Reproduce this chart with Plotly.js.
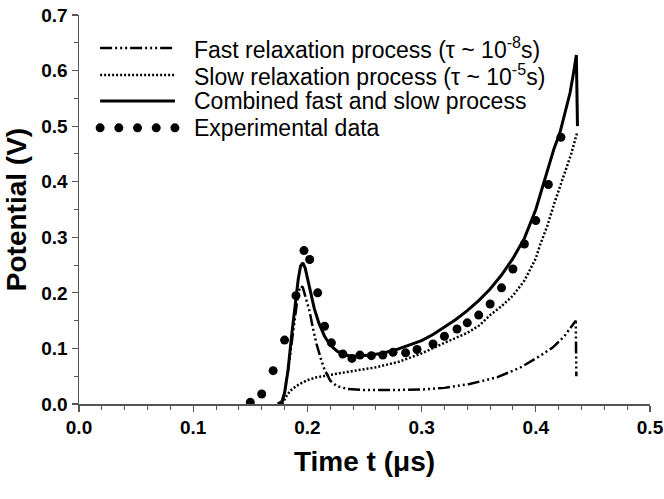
<!DOCTYPE html>
<html>
<head>
<meta charset="utf-8">
<script src="https://cdn.plot.ly/plotly-3.0.1.min.js"></script>
<style>html,body{margin:0;padding:0;background:#fff;}#chart{width:664px;height:499px;}</style>
</head>
<body>
<div id="chart"></div>
<script>
// Combined fast and slow process (solid)
const combT = [0.174,0.178,0.180,0.183,0.186,0.189,0.192,0.194,0.196,0.198,0.200,0.203,0.206,0.210,0.215,0.220,0.226,0.232,0.238,0.245,0.255,0.265,0.278,0.290,0.300,0.310,0.320,0.330,0.340,0.350,0.360,0.370,0.380,0.390,0.400,0.405,0.410,0.416,0.421,0.426,0.430,0.433,0.4355,0.4365];
const combV = [0,0.005,0.02,0.06,0.12,0.175,0.225,0.248,0.254,0.245,0.226,0.198,0.172,0.146,0.122,0.106,0.095,0.089,0.086,0.086,0.088,0.091,0.098,0.106,0.114,0.125,0.138,0.152,0.168,0.186,0.207,0.232,0.262,0.298,0.35,0.385,0.42,0.46,0.487,0.525,0.56,0.595,0.628,0.50];
// Slow relaxation process (dotted)
const slowT = [0.178,0.181,0.185,0.190,0.195,0.200,0.208,0.218,0.230,0.245,0.260,0.280,0.300,0.320,0.340,0.351,0.360,0.370,0.380,0.390,0.395,0.400,0.404,0.410,0.416,0.421,0.426,0.431,0.436];
const slowV = [0,0.012,0.024,0.032,0.038,0.043,0.048,0.052,0.056,0.061,0.066,0.076,0.091,0.110,0.128,0.142,0.16,0.176,0.195,0.222,0.241,0.262,0.288,0.32,0.36,0.39,0.42,0.45,0.487];
// Fast relaxation process (dash-dot-dot)
const fastT = [0.177,0.180,0.183,0.186,0.189,0.192,0.194,0.196,0.198,0.202,0.205,0.208,0.212,0.215,0.220,0.226,0.235,0.250,0.270,0.300,0.320,0.342,0.366,0.386,0.404,0.415,0.425,0.435,0.4355];
const fastV = [0,0.02,0.06,0.11,0.16,0.2,0.212,0.21,0.195,0.166,0.135,0.108,0.08,0.062,0.042,0.032,0.027,0.025,0.025,0.026,0.029,0.036,0.048,0.065,0.087,0.102,0.122,0.15,0.05];
// Experimental data (dots)
const expT = [0.150,0.160,0.170,0.180,0.190,0.197,0.202,0.209,0.215,0.221,0.231,0.239,0.246,0.256,0.266,0.275,0.286,0.296,0.310,0.320,0.331,0.340,0.350,0.360,0.370,0.380,0.390,0.400,0.411,0.422];
const expV = [0.003,0.018,0.06,0.115,0.195,0.276,0.26,0.2,0.14,0.11,0.09,0.082,0.088,0.087,0.088,0.093,0.092,0.098,0.108,0.122,0.135,0.146,0.16,0.18,0.209,0.243,0.288,0.33,0.395,0.48];

const names = [
  'Fast relaxation process (\u03c4 ~ 10<sup>-8</sup>s)',
  'Slow relaxation process (\u03c4 ~ 10<sup>-5</sup>s)',
  'Combined fast and slow process',
  'Experimental data'
];
const fastDash = '12px,3px,2px,3px,2px,3px,2px,3px';
const slowDash = '2px,2px';

const traces = [
  {x: fastT, y: fastV, name: names[0], mode: 'lines', line: {color: '#000', width: 2.5, dash: fastDash}},
  {x: slowT, y: slowV, name: names[1], mode: 'lines', line: {color: '#000', width: 2.5, dash: slowDash}},
  {x: combT, y: combV, name: names[2], mode: 'lines', line: {color: '#000', width: 3}},
  {x: expT, y: expV, name: names[3], mode: 'markers', marker: {color: '#000', size: 9}}
];

// Legend drawn as layout decoration (samples + labels)
const legRowsY = [0.915, 0.846, 0.779, 0.710];
const legX0 = 0.037, legX1 = 0.168, legTextX = 0.198;
const legFont = {family: 'Liberation Sans, Arial, sans-serif', size: 23, color: '#000'};
const legendDashes = [fastDash, slowDash, 'solid'];
const shapes = [];
for (let i = 0; i < 3; i++) {
  shapes.push({type: 'line', xref: 'paper', yref: 'paper', x0: legX0, x1: legX1, y0: legRowsY[i], y1: legRowsY[i],
               line: {color: '#000', width: i === 2 ? 3 : 2.5, dash: legendDashes[i]}});
}
for (let k = 0; k < 5; k++) {
  const cx = legX0 + (legX1 - legX0) * k / 4;
  shapes.push({type: 'circle', xref: 'paper', yref: 'paper', xsizemode: 'pixel', ysizemode: 'pixel',
               xanchor: cx, yanchor: legRowsY[3], x0: -4.5, x1: 4.5, y0: -4.5, y1: 4.5,
               fillcolor: '#000', line: {color: '#000', width: 0}});
}
const annotations = names.map((n, i) => ({
  xref: 'paper', yref: 'paper', x: legTextX, y: legRowsY[i], xanchor: 'left', yanchor: 'middle',
  text: n, showarrow: false, font: legFont
}));

const tickFont = {family: 'Liberation Sans, Arial, sans-serif', size: 19, color: '#000', weight: 'bold'};
const titleFont = {family: 'Liberation Sans, Arial, sans-serif', size: 28, color: '#000', weight: 'bold'};

const layout = {
  width: 664, height: 499,
  margin: {l: 79, r: 14, t: 15, b: 95},
  paper_bgcolor: '#fff', plot_bgcolor: '#fff',
  showlegend: false,
  shapes: shapes,
  annotations: annotations,
  xaxis: {
    range: [0, 0.5], dtick: 0.1, tick0: 0, tickformat: '.1f',
    showgrid: false, zeroline: false, showline: true, linecolor: '#555', linewidth: 1.5,
    ticks: 'outside', ticklen: 6, tickcolor: '#555', tickwidth: 1.2,
    minor: {dtick: 0.02, ticks: 'outside', ticklen: 4, tickcolor: '#555', tickwidth: 1},
    tickfont: tickFont,
    title: {text: 'Time t (\u03bcs)', font: titleFont, standoff: 14}
  },
  yaxis: {
    range: [0, 0.7], dtick: 0.1, tick0: 0, tickformat: '.1f',
    showgrid: false, zeroline: false, showline: true, linecolor: '#555', linewidth: 1.5,
    ticks: 'outside', ticklen: 6, tickcolor: '#555', tickwidth: 1.2,
    minor: {dtick: 0.05, ticks: 'outside', ticklen: 4, tickcolor: '#555', tickwidth: 1},
    tickfont: tickFont,
    title: {text: 'Potential (V)', font: titleFont, standoff: 6}
  }
};

Plotly.newPlot('chart', traces, layout, {displayModeBar: false, staticPlot: true});
</script>
</body>
</html>
